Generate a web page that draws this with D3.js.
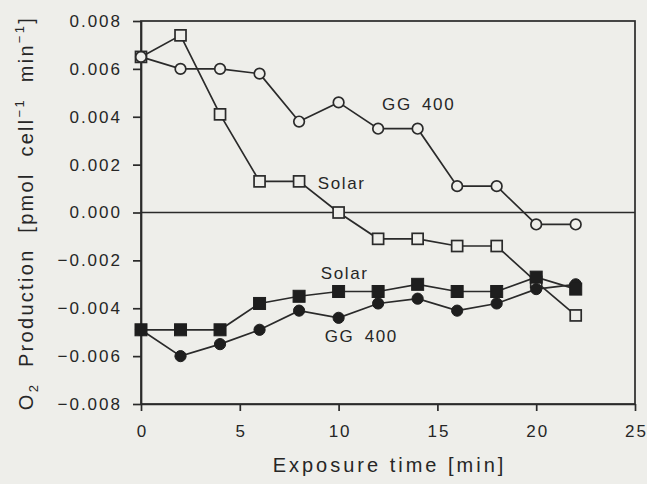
<!DOCTYPE html>
<html>
<head>
<meta charset="utf-8">
<script src="https://cdn.jsdelivr.net/npm/d3@7"></script>
<style>
  html, body { margin: 0; padding: 0; background: #eeeeea; }
  svg { display: block; }
  text { font-family: "Liberation Sans", Arial, Helvetica, sans-serif; fill: #262626; }
</style>
</head>
<body>
<svg id="chart" width="647" height="484"></svg>
<script>
// Exposure time [min]
const time = [0, 2, 4, 6, 8, 10, 12, 14, 16, 18, 20, 22];

// O2 production [pmol cell^-1 min^-1]
const solarOpen   = [0.0065, 0.0074, 0.0041, 0.0013, 0.0013, 0.0000, -0.0011, -0.0011, -0.0014, -0.0014, -0.0029, -0.0043];
const gg400Open   = [0.0065, 0.0060, 0.0060, 0.0058, 0.0038, 0.0046, 0.0035, 0.0035, 0.0011, 0.0011, -0.0005, -0.0005];
const solarFilled = [-0.0049, -0.0049, -0.0049, -0.0038, -0.0035, -0.0033, -0.0033, -0.0030, -0.0033, -0.0033, -0.0027, -0.0032];
const gg400Filled = [-0.0049, -0.0060, -0.0055, -0.0049, -0.0041, -0.0044, -0.0038, -0.0036, -0.0041, -0.0038, -0.0032, -0.0030];

const xTicks = [0, 5, 10, 15, 20, 25];
const yTicks = [-0.008, -0.006, -0.004, -0.002, 0, 0.002, 0.004, 0.006, 0.008];

// Series labels: text, anchor time, anchor value
const labelText = ["GG 400", "Solar", "Solar", "GG 400"];
const labelT    = [12.2, 8.95, 9.1, 9.3];
const labelV    = [0.0043, 0.0010, -0.00276, -0.00539];

const svg = d3.select("#chart");
const ink = "#2a2a2a";
const bg = "#eeeeea";

const plotL = 141, plotR = 635, plotT = 21, plotB = 404;
const x = d3.scaleLinear().domain([0, 25]).range([plotL, plotR]);
const y = d3.scaleLinear().domain([-0.008, 0.008]).range([plotB, plotT]);

// Frame
svg.append("rect")
  .attr("x", plotL).attr("y", plotT)
  .attr("width", plotR - plotL).attr("height", plotB - plotT)
  .attr("fill", "none").attr("stroke", ink).attr("stroke-width", 1.7);

// Zero line
svg.append("line")
  .attr("x1", plotL).attr("x2", plotR)
  .attr("y1", y(0)).attr("y2", y(0))
  .attr("stroke", ink).attr("stroke-width", 1.6);

// Axes
const yAxis = svg.append("g")
  .attr("transform", `translate(${plotL},0)`)
  .call(d3.axisLeft(y).tickValues(yTicks).tickFormat(d3.format(".3f"))
    .tickSize(8).tickSizeOuter(0).tickPadding(11));
const xAxis = svg.append("g")
  .attr("transform", `translate(0,${plotB})`)
  .call(d3.axisBottom(x).tickValues(xTicks).tickFormat(d3.format("d"))
    .tickSize(7).tickSizeOuter(0).tickPadding(14));

[yAxis, xAxis].forEach(g => {
  g.select(".domain").attr("stroke", ink).attr("stroke-width", 1.7);
  g.selectAll(".tick line").attr("stroke", ink).attr("stroke-width", 1.7);
  g.selectAll(".tick text")
    .attr("fill", "#262626")
    .style("font-family", '"Liberation Sans", Arial, sans-serif')
    .style("font-size", "17px")
    .style("letter-spacing", "2px");
});
xAxis.selectAll(".tick text").attr("dx", 1);

// Axis titles
svg.append("text")
  .attr("x", (plotL + plotR) / 2 + 1.5).attr("y", 472)
  .attr("text-anchor", "middle")
  .style("font-size", "20px").style("letter-spacing", "3px")
  .text("Exposure time [min]");

const yTitle = svg.append("text")
  .attr("transform", "translate(33,213) rotate(-90)")
  .attr("text-anchor", "middle")
  .style("white-space", "pre")
  .style("font-size", "20px").style("letter-spacing", "2.3px");
yTitle.append("tspan").text("O");
yTitle.append("tspan").attr("dy", 5).style("font-size", "13px").text("2");
yTitle.append("tspan").attr("dy", -5).text("  Production  [pmol  cell");
yTitle.append("tspan").attr("dy", -9).style("font-size", "13px").text("−1");
yTitle.append("tspan").attr("dy", 9).text("  min");
yTitle.append("tspan").attr("dy", -9).style("font-size", "13px").text("−1");
yTitle.append("tspan").attr("dy", 9).text("]");

// Series
const line = d3.line().x(d => x(d[0])).y(d => y(d[1]));
const pairs = vals => time.map((t, i) => [t, vals[i]]);

const series = [
  { vals: solarOpen,   shape: "square", filled: false },
  { vals: gg400Open,   shape: "circle", filled: false },
  { vals: gg400Filled, shape: "circle", filled: true },
  { vals: solarFilled, shape: "square", filled: true }
];

series.forEach(s => {
  svg.append("path")
    .datum(pairs(s.vals))
    .attr("d", line)
    .attr("fill", "none")
    .attr("stroke", ink)
    .attr("stroke-width", 1.7);
});

series.forEach(s => {
  const g = svg.append("g");
  const pts = pairs(s.vals);
  if (s.shape === "square") {
    const size = s.filled ? 12 : 11;
    g.selectAll("rect").data(pts).join("rect")
      .attr("x", d => x(d[0]) - size / 2)
      .attr("y", d => y(d[1]) - size / 2)
      .attr("width", size).attr("height", size)
      .attr("fill", s.filled ? "#1e1e1e" : bg)
      .attr("stroke", s.filled ? "#1e1e1e" : ink)
      .attr("stroke-width", s.filled ? 1 : 1.7);
  } else {
    g.selectAll("circle").data(pts).join("circle")
      .attr("cx", d => x(d[0]))
      .attr("cy", d => y(d[1]))
      .attr("r", s.filled ? 5.6 : 5.3)
      .attr("fill", s.filled ? "#1e1e1e" : bg)
      .attr("stroke", s.filled ? "#1e1e1e" : ink)
      .attr("stroke-width", s.filled ? 1 : 1.7);
  }
});

// Series labels
svg.selectAll("text.series-label")
  .data(labelText.map((t, i) => ({ t, at: labelT[i], v: labelV[i] })))
  .join("text")
  .attr("class", "series-label")
  .attr("x", d => x(d.at))
  .attr("y", d => y(d.v))
  .style("font-size", "17px")
  .style("letter-spacing", "1.6px")
  .style("word-spacing", "4px")
  .text(d => d.t);
</script>
</body>
</html>
